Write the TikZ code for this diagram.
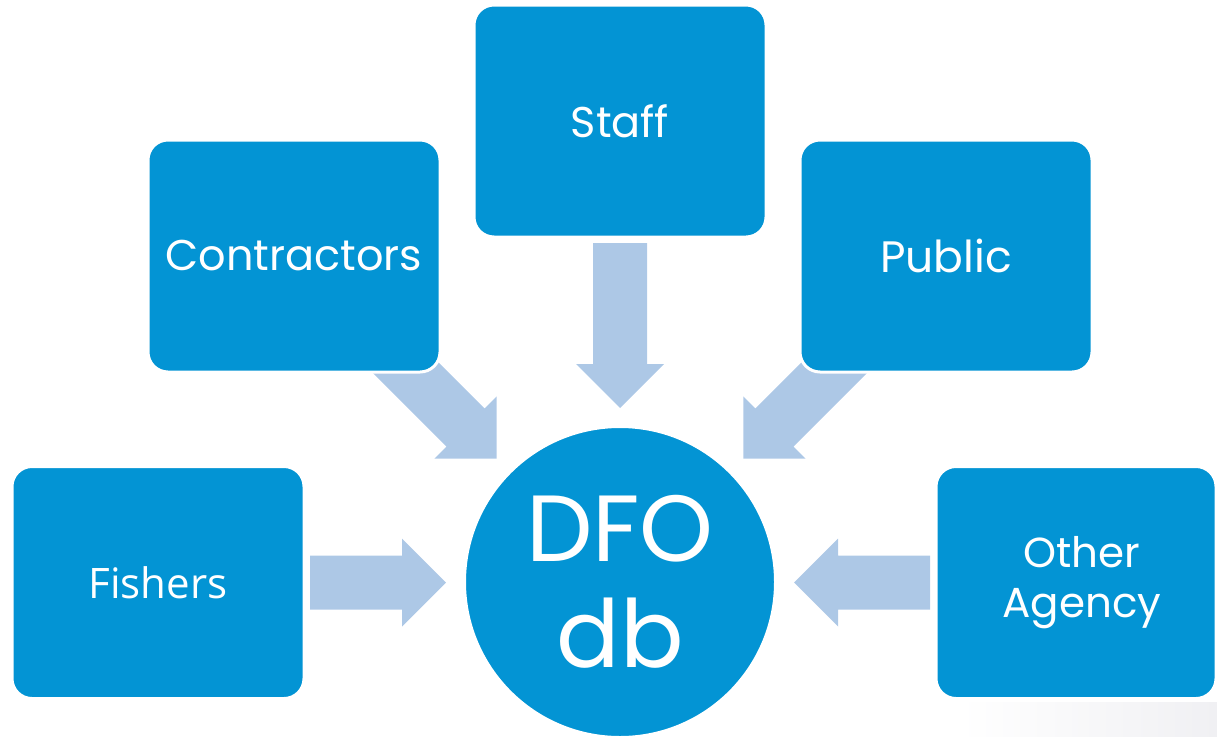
\documentclass[tikz,border=0pt]{standalone}
\usepackage{fontspec}
\setmainfont{Poppins}
\newfontfamily\fishfont{Open Sans}
\usetikzlibrary{fadings}
\definecolor{boxblue}{RGB}{3,148,212}
\definecolor{arrblue}{RGB}{173,200,230}
\definecolor{shadowgray}{RGB}{240,240,243}
\tikzfading[name=fadein, left color=transparent!100, right color=transparent!0]
\tikzset{
  srcbox/.style={rectangle, rounded corners=20pt, fill=boxblue, draw=white,
    line width=3pt, minimum width=292pt, minimum height=232pt, text=white,
    inner sep=0pt, align=center},
  hub/.style={circle, fill=boxblue, draw=white, line width=2pt,
    minimum size=310pt, inner sep=0pt, text=white, align=center},
  pics/blockarr/.style={code={
    \fill[arrblue] (0,-27) -- (#1,-27) -- (#1,-44) -- (#1+44,0) -- (#1,44)
      -- (#1,27) -- (0,27) -- cycle;}}
}
\begin{document}
\begin{tikzpicture}[x=1pt,y=-1pt]
\useasboundingbox (0,0) rectangle (1217,737);
% faint reflection
\fill[shadowgray, path fading=fadein] (960,702) rectangle (1217,737);
% block arrows
\pic[rotate=-90]  at (620,243)   {blockarr=121};
\pic[rotate=-45]  at (380,342)   {blockarr=121};
\pic[rotate=-135] at (860,342)   {blockarr=121};
\pic[rotate=0]    at (310,582.5) {blockarr=92};
\pic[rotate=180]  at (930,582.5) {blockarr=92};
% source boxes
\node[srcbox, font=\fontsize{43}{48}\selectfont] (staff) at (620,121) {Staff};
\node[srcbox, font=\fontsize{43}{48}\selectfont] (contr) at (294,256) {Contractors};
\node[srcbox, font=\fontsize{44}{48}\selectfont] (public) at (946,256) {Public};
\node[srcbox, font=\fishfont\fontsize{42}{48}\selectfont] (fish) at (158,582.5) {Fishers};
\node[srcbox, minimum width=280pt, font=\fontsize{42}{50}\selectfont] (other) at (1076,582.5)
  {\hspace*{12pt}\raisebox{-5pt}{Other}\\\hspace*{12pt}\raisebox{-5pt}{Agency}};
% hub
\node[hub, font=\fontsize{94}{106}\selectfont] (db) at (620,582) {DFO\\db};
\end{tikzpicture}
\end{document}
